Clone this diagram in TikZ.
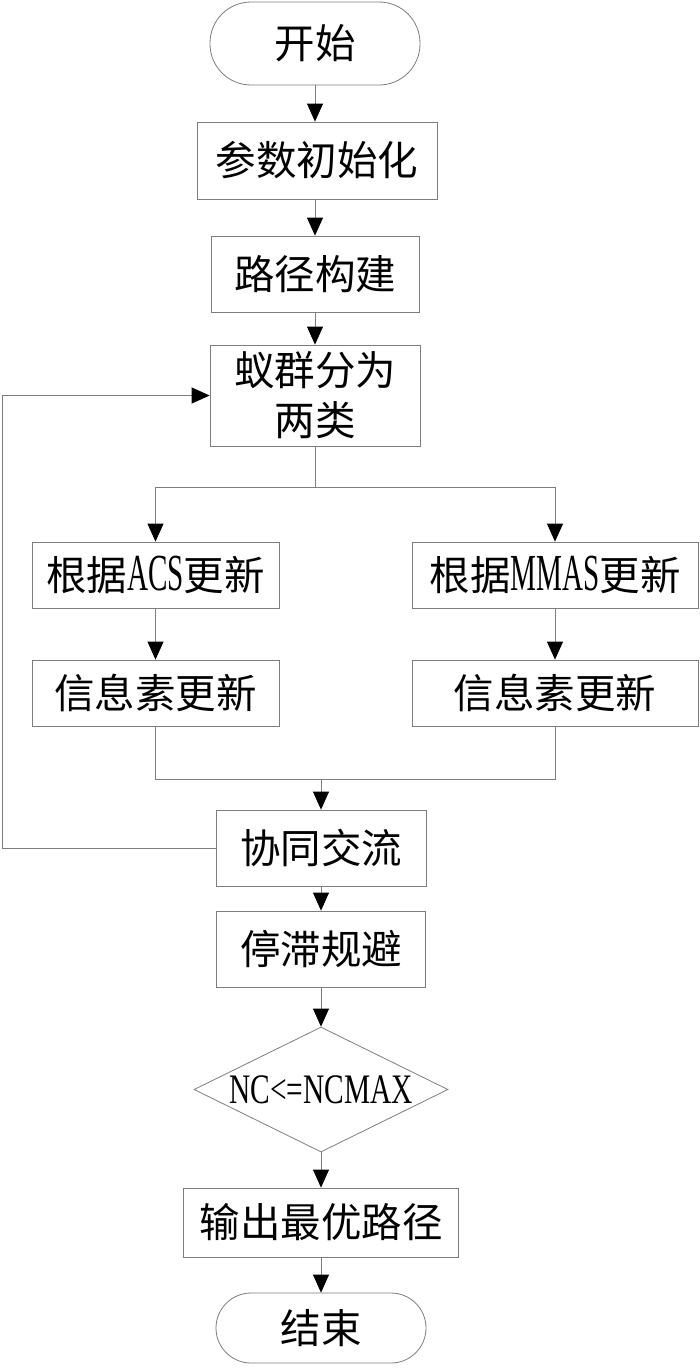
\documentclass[tikz,border=0pt]{standalone}
\usepackage{fontspec}
\usepackage{graphicx}
\usetikzlibrary{arrows.meta,shapes.geometric}
\setmainfont{Liberation Serif}
\newfontfamily\cjk{Noto Sans CJK SC}
\definecolor{linegray}{RGB}{125,125,125}
\newcommand\lat[1]{\scalebox{0.56}[1]{\fontsize{52}{56}\selectfont\rmfamily #1}}

\begin{document}
\begin{tikzpicture}[x=1pt, y=-1pt, line width=0.8pt,
        box/.style={draw=linegray, rectangle, inner sep=0pt, align=center,
                font=\cjk\fontsize{40.5}{50}\selectfont},
        term/.style={box, rounded corners=#1},
        decision/.style={box, diamond, shape aspect=2.03, font=\rmfamily\fontsize{42}{48}\selectfont},
        arr/.style={draw=linegray, -{Triangle[width=16pt, length=18pt, color=black]}},
        link/.style={draw=linegray}]
                \useasboundingbox (0, 0) rectangle (700, 1368);
                \node[term=41pt, minimum width=210pt, minimum height=83pt] (start) at (315, 43.5) {开始};
                \node[box, minimum width=240pt, minimum height=77pt] (init) at (317, 160.5) {参数初始化};
                \node[box, minimum width=208pt, minimum height=76pt] (path) at (315, 274) {路径构建};
                \node[box, minimum width=210pt, minimum height=101pt] (split) at (315, 395.5) {蚁群分为\\两类};
                \node[box, minimum width=247pt, minimum height=66pt] (acs) at (155.5, 575) {根据\lat{ACS}更新};
                \node[box, minimum width=286pt, minimum height=66pt] (mmas) at (555, 575) {根据\lat{MMAS}更新};
                \node[box, minimum width=247pt, minimum height=66pt] (phl) at (155.5, 693) {信息素更新};
                \node[box, minimum width=286pt, minimum height=66pt] (phr) at (555, 693) {信息素更新};
                \node[box, minimum width=210pt, minimum height=76pt] (coop) at (321, 848) {协同交流};
                \node[box, minimum width=209pt, minimum height=76pt] (stag) at (321, 949) {停滞规避};
                \node[decision, minimum width=254pt, minimum height=125pt] (check) at (321, 1089.5)
                        {\scalebox{0.7}[1]{NC<=NCMAX}};
                \node[box, minimum width=275pt, minimum height=69pt] (out) at (321, 1222.5) {输出最优路径};
                \node[term=35pt, minimum width=210pt, minimum height=70pt] (stop) at (321, 1328) {结束};

                \coordinate (join) at (321, 779);
                \coordinate (back) at (2, 848);

                \draw[arr] (start.south) -- (start.south |- init.north);
                \draw[arr] (path.north |- init.south) -- (path.north);
                \draw[arr] (path.south) -- (split.north);
                \draw[link] (split.south) -- ++(0, 40.5) coordinate (fork);
                \draw[arr] (fork) -| (acs.north);
                \draw[arr] (fork) -| (mmas.north);
                \draw[arr] (acs.south) -- (phl.north);
                \draw[arr] (mmas.south) -- (phr.north);
                \draw[link] (phl.south) |- (join) -| (phr.south);
                \draw[arr] (join) -- (coop.north);
                \draw[arr] (coop.west) -- (back) |- (split.west);
                \draw[arr] (coop.south) -- (stag.north);
                \draw[arr] (stag.south) -- (check.north);
                \draw[arr] (check.south) -- (out.north);
                \draw[arr] (out.south) -- (stop.north);
        \end{tikzpicture}
\end{document}
